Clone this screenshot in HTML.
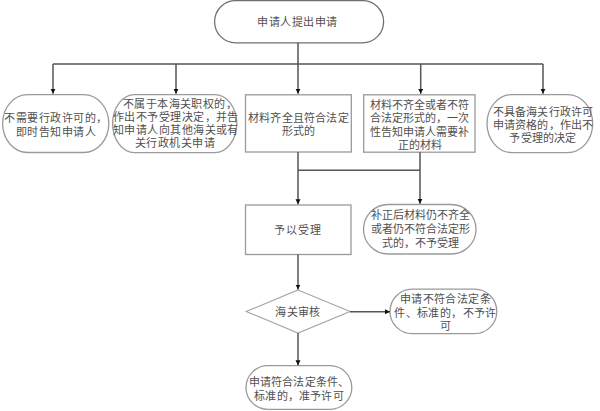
<!DOCTYPE html>
<html lang="zh-CN"><head><meta charset="utf-8">
<style>
html,body{margin:0;padding:0;background:#fff;}
body{width:600px;height:411px;position:relative;overflow:hidden;font-family:"Liberation Sans",sans-serif;}
svg{position:absolute;left:0;top:0;}
.t{position:absolute;text-align:center;font-size:11px;line-height:13px;color:#505050;white-space:nowrap;letter-spacing:0.45px;}
</style></head><body>
<svg width="600" height="411" viewBox="0 0 600 411">
<defs>
<marker id="a" markerWidth="6" markerHeight="6" refX="5" refY="2.5" orient="auto" markerUnits="userSpaceOnUse">
<path d="M0,0 L5,2.5 L0,5 z" fill="#111"/>
</marker>
</defs>
<g fill="#fff" stroke="#707070" stroke-width="1.3">
<rect x="214.6" y="0.6" width="169" height="42.2" rx="21.1" ry="21.1"/>
</g>
<g fill="#fff" stroke="#9a9a9a" stroke-width="1.3">
<rect x="2.6" y="94.6" width="106.2" height="57.9" rx="25" ry="29"/>
<rect x="112.6" y="94.6" width="124.2" height="58" rx="22" ry="29"/>
<rect x="245.5" y="94.8" width="105.8" height="57.2"/>
<rect x="363.7" y="94.8" width="111.3" height="57.4"/>
<rect x="487" y="94.6" width="105.7" height="58" rx="25" ry="29"/>
<rect x="245.5" y="205" width="105.5" height="49.5"/>
<rect x="363.5" y="204.5" width="112.5" height="49.5" rx="24.75" ry="24.75"/>
<path d="M298,290 L350,311.5 L298,333 L246.3,311.5 Z" stroke="#a8a8a8" stroke-width="1.2"/>
<rect x="390" y="289.2" width="106.8" height="44.4" rx="22.2" ry="22.2"/>
<rect x="246" y="365.7" width="105.8" height="43.6" rx="21.8" ry="21.8"/>
</g>
<g fill="none" stroke="#555" stroke-width="1.5">
<path d="M298,42.8 V63.9"/>
<path d="M53,63.9 H543"/>
<path d="M53,63.9 V93.8" marker-end="url(#a)"/>
<path d="M176,63.9 V93.8" marker-end="url(#a)"/>
<path d="M298,63.9 V93.8" marker-end="url(#a)"/>
<path d="M420.7,63.9 V93.8" marker-end="url(#a)"/>
<path d="M543,63.9 V93.8" marker-end="url(#a)"/>
<path d="M298,152 V204.3" marker-end="url(#a)"/>
<path d="M420,152.2 V203.8" marker-end="url(#a)"/>
<path d="M298,170.2 H420"/>
<path d="M298,254.5 V289.6" marker-end="url(#a)"/>
<path d="M350,311.8 H390" marker-end="url(#a)"/>
<path d="M298,333 V365.3" marker-end="url(#a)"/>
</g>
</svg>
<div class="t" style="left:212.5px;width:170px;top:15.8px;">申请人提出申请</div>
<div class="t" style="left:3px;width:106px;top:110.6px;line-height:14.2px;">不需要行政许可的，<br>即时告知申请人</div>
<div class="t" style="left:113px;width:124px;top:97.9px;line-height:13.1px;"><span style="position:relative;left:5px">不属于本海关职权的，</span><br>作出不予受理决定，并告<br>知申请人向其他海关或有<br>关行政机关申请</div>
<div class="t" style="left:245px;width:107px;top:112.2px;letter-spacing:0.2px;">材料齐全且符合法定<br>形式的</div>
<div class="t" style="left:364px;width:111px;top:98.8px;line-height:13.4px;letter-spacing:0px;">材料不齐全或者不符<br>合法定形式的，一次<br>性告知申请人需要补<br>正的材料</div>
<div class="t" style="left:490px;width:106px;top:106px;line-height:12.9px;letter-spacing:0.2px;">不具备海关行政许可<br>申请资格的，作出不<br>予受理的决定</div>
<div class="t" style="left:245px;width:106px;top:224.3px;letter-spacing:0.9px;">予以受理</div>
<div class="t" style="left:364px;width:112px;top:209.4px;line-height:13.7px;letter-spacing:0px;">补正后材料仍不齐全<br>或者仍不符合法定形<br>式的，不予受理</div>
<div class="t" style="left:246px;width:104px;top:306px;">海关审核</div>
<div class="t" style="left:392px;width:107px;top:292.9px;line-height:13.75px;letter-spacing:0.4px;">申请不符合法定条<br>件、标准的，不予许<br>可</div>
<div class="t" style="left:246px;width:106px;top:375.2px;line-height:14px;letter-spacing:0.2px;">申请符合法定条件、<br>标准的，准予许可</div>
</body></html>
